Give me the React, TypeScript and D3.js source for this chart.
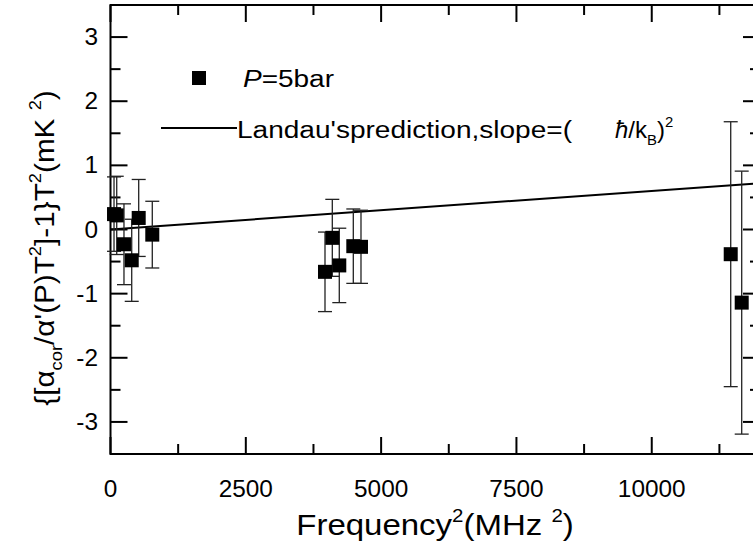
import React from "react";
import * as d3 from "d3";

const freq2 = [65, 115, 249, 392, 521, 772, 3963, 4098, 4227, 4486, 4628, 11459, 11662];
const yVal = [0.24, 0.22, -0.23, -0.48, 0.18, -0.08, -0.66, -0.13, -0.56, -0.26, -0.27, -0.385, -1.14];
const yErr = [0.58, 0.61, 0.63, 0.64, 0.6, 0.52, 0.62, 0.6, 0.58, 0.58, 0.57, 2.065, 2.05];

const lineX = [0, 12000];
const lineY = [0, 0.72];

const xMajor = [0, 2500, 5000, 7500, 10000];
const xMinor = [1250, 3750, 6250, 8750, 11250];
const yMajor = [-3, -2, -1, 0, 1, 2, 3];
const yMinor = [-3.5, -2.5, -1.5, -0.5, 0.5, 1.5, 2.5, 3.5];

const W = 753;
const H = 558;
const L = 110.5, R = 760, T = 5, B = 454;
const FONT = "'Liberation Sans', Arial, sans-serif";

type Seg = { t: string; s?: "sub" | "sup"; i?: boolean };

function RichText({ segs, size, x, y, anchor, transform, textLength }: { segs: Seg[]; size: number; x: number; y: number; anchor?: string; transform?: string; textLength?: number }) {
  const out: React.ReactNode[] = [];
  let cur = 0;
  segs.forEach((sg, k) => {
    const target = sg.s === "sub" ? size * 0.3 : sg.s === "sup" ? -size * 0.45 : 0;
    const dy = target - cur;
    cur = target;
    out.push(
      <tspan key={k} dy={dy} fontSize={sg.s ? size * 0.62 : size} fontStyle={sg.i ? "italic" : "normal"}>
        {sg.t}
      </tspan>
    );
  });
  const extra: any = textLength ? { textLength, lengthAdjust: "spacingAndGlyphs" } : {};
  return (
    <text x={x} y={y} fontSize={size} fontFamily={FONT} textAnchor={anchor || "start"} transform={transform} fill="#000" style={{ whiteSpace: "pre" }} {...extra}>
      {out}
    </text>
  );
}

export default function App() {
  const x = d3.scaleLinear().domain([0, 12000]).range([L, R]);
  const y = d3.scaleLinear().domain([-3.5, 3.5]).range([B, T]);
  const line = d3.line<number>().x((_, i) => x(lineX[i])).y((d) => y(d));
  const maj = 17, mn = 10;
  const sq = 14, cap = 7;

  return (
    <svg width={W} height={H} style={{ position: "absolute", left: 0, top: 0, background: "#fff" }}>
      <rect x={0} y={0} width={W} height={H} fill="#fff" />
      {/* frame */}
      <rect x={L} y={T} width={R - L} height={B - T} fill="none" stroke="#000" strokeWidth={2} />
      {/* x ticks */}
      {xMajor.map((v) => (
        <g key={"xM" + v}>
          <line x1={x(v)} x2={x(v)} y1={B} y2={B - maj} stroke="#000" strokeWidth={2} />
          <line x1={x(v)} x2={x(v)} y1={T} y2={T + maj} stroke="#000" strokeWidth={2} />
          <text transform={`translate(${x(v)},497) scale(1.06,1)`} textAnchor="middle" fontSize={23} fontFamily={FONT}>{v}</text>
        </g>
      ))}
      {xMinor.map((v) => (
        <g key={"xm" + v}>
          <line x1={x(v)} x2={x(v)} y1={B} y2={B - mn} stroke="#000" strokeWidth={2} />
          <line x1={x(v)} x2={x(v)} y1={T} y2={T + mn} stroke="#000" strokeWidth={2} />
        </g>
      ))}
      {yMajor.map((v) => (
        <g key={"yM" + v}>
          <line x1={L} x2={L + maj} y1={y(v)} y2={y(v)} stroke="#000" strokeWidth={2} />
          <line x1={R} x2={R - maj} y1={y(v)} y2={y(v)} stroke="#000" strokeWidth={2} />
          <text transform={`translate(98,${y(v) + 8}) scale(1.06,1)`} textAnchor="end" fontSize={23} fontFamily={FONT}>{v}</text>
        </g>
      ))}
      {yMinor.map((v) => (
        <g key={"ym" + v}>
          <line x1={L} x2={L + mn} y1={y(v)} y2={y(v)} stroke="#000" strokeWidth={2} />
          <line x1={R} x2={R - mn} y1={y(v)} y2={y(v)} stroke="#000" strokeWidth={2} />
        </g>
      ))}
      {/* fit line */}
      <path d={line(lineY) || ""} fill="none" stroke="#000" strokeWidth={2} />
      {/* error bars */}
      {freq2.map((f, i) => {
        const cx = x(f);
        const y1 = y(yVal[i] + yErr[i]);
        const y2 = y(yVal[i] - yErr[i]);
        return (
          <g key={"e" + i} stroke="#222" strokeWidth={1.3}>
            <line x1={cx} x2={cx} y1={y1} y2={y2} />
            <line x1={cx - cap} x2={cx + cap} y1={y1} y2={y1} />
            <line x1={cx - cap} x2={cx + cap} y1={y2} y2={y2} />
          </g>
        );
      })}
      {freq2.map((f, i) => (
        <rect key={"p" + i} x={x(f) - sq / 2} y={y(yVal[i]) - sq / 2} width={sq} height={sq} fill="#000" />
      ))}
      {/* legend */}
      <rect x={192} y={71} width={14} height={14} fill="#000" />
      <RichText x={243} y={87} size={23} textLength={91} segs={[{ t: "P", i: true }, { t: "=5bar" }]} />
      <line x1={161} x2={237} y1={128} y2={128} stroke="#000" strokeWidth={2} />
      <RichText x={237} y={138} size={23} textLength={335} segs={[{ t: "Landau'sprediction,slope=(" }]} />
      <RichText x={615} y={138} size={24} segs={[{ t: "ħ", i: true }, { t: "/k" }, { t: "B", s: "sub" }, { t: ")" }, { t: "2", s: "sup" }]} />
      {/* axis titles */}
      <RichText
        x={0}
        y={0}
        size={30}
        anchor="middle"
        transform="translate(435,535) scale(1.1,1)"
        segs={[{ t: "Frequency" }, { t: "2", s: "sup" }, { t: "(MHz " }, { t: "2", s: "sup" }, { t: ")" }]}
      />
      <RichText
        x={0}
        y={0}
        size={28}
        anchor="middle"
        transform="translate(54,248) rotate(-90) scale(1.06,1)"
        segs={[
          { t: "{[α" },
          { t: "cor", s: "sub" },
          { t: "/α'(P)T" },
          { t: "2", s: "sup" },
          { t: "]-1}T" },
          { t: "2", s: "sup" },
          { t: "(mK " },
          { t: "2", s: "sup" },
          { t: ")" },
        ]}
      />
    </svg>
  );
}
